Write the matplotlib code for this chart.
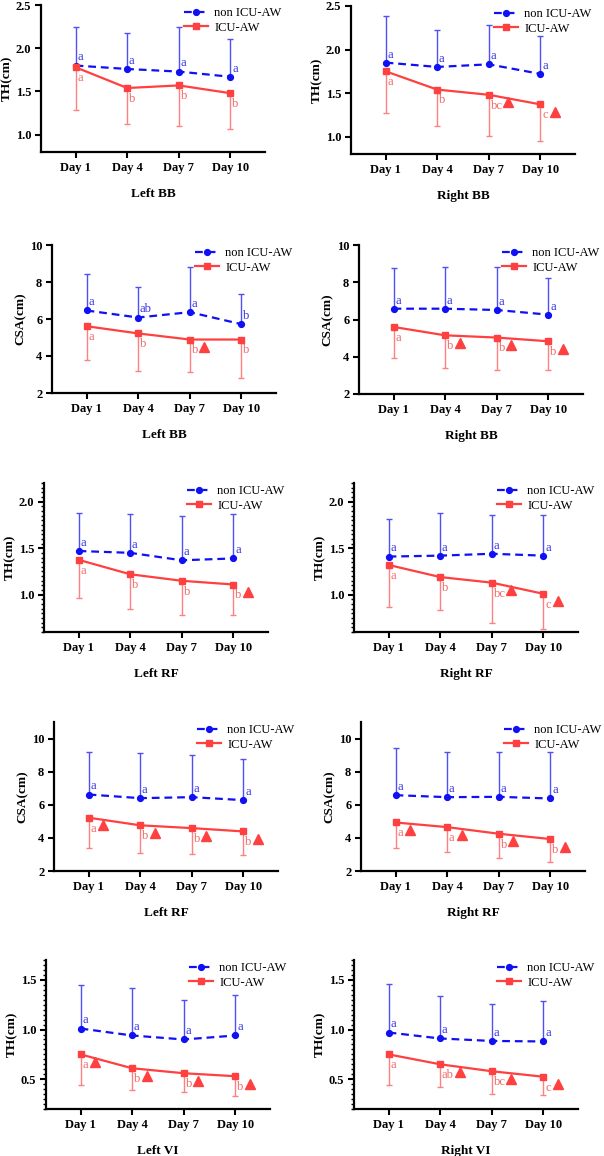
import matplotlib
matplotlib.use("Agg")
import matplotlib.pyplot as plt
import matplotlib.transforms as mtransforms
from matplotlib.ticker import MultipleLocator
import numpy as np

plt.rcParams['font.family'] = ['Liberation Serif', 'DejaVu Serif']

days = ["Day 1", "Day 4", "Day 7", "Day 10"]
series_names = ["non ICU-AW", "ICU-AW"]

# Panel titles / y labels
titles = ["Left BB", "Right BB", "Left BB", "Right BB", "Left RF",
          "Right RF", "Left RF", "Right RF", "Left VI", "Right VI"]
ylabels = ["TH(cm)", "TH(cm)", "CSA(cm)", "CSA(cm)", "TH(cm)",
           "TH(cm)", "CSA(cm)", "CSA(cm)", "TH(cm)", "TH(cm)"]

# Means and SDs (non ICU-AW)
non_mean = [
    [1.80, 1.76, 1.73, 1.67],
    [1.85, 1.80, 1.83, 1.72],
    [6.46, 6.08, 6.37, 5.72],
    [6.58, 6.58, 6.51, 6.26],
    [1.47, 1.45, 1.37, 1.39],
    [1.41, 1.42, 1.44, 1.42],
    [6.62, 6.40, 6.46, 6.28],
    [6.58, 6.46, 6.48, 6.38],
    [1.01, 0.94, 0.90, 0.94],
    [0.97, 0.91, 0.885, 0.88],
]
non_sd = [
    [0.45, 0.42, 0.51, 0.44],
    [0.54, 0.43, 0.45, 0.44],
    [1.98, 1.65, 2.44, 1.65],
    [2.19, 2.26, 2.31, 1.99],
    [0.41, 0.42, 0.48, 0.48],
    [0.40, 0.46, 0.415, 0.435],
    [2.54, 2.72, 2.54, 2.51],
    [2.82, 2.74, 2.72, 2.78],
    [0.44, 0.475, 0.40, 0.41],
    [0.485, 0.425, 0.375, 0.41],
]
# Means and SDs (ICU-AW)
icu_mean = [
    [1.78, 1.54, 1.57, 1.48],
    [1.75, 1.54, 1.48, 1.37],
    [5.61, 5.22, 4.89, 4.89],
    [5.60, 5.15, 5.03, 4.83],
    [1.375, 1.22, 1.15, 1.11],
    [1.32, 1.19, 1.13, 1.01],
    [5.22, 4.76, 4.59, 4.39],
    [4.93, 4.65, 4.25, 3.93],
    [0.75, 0.61, 0.56, 0.53],
    [0.75, 0.65, 0.58, 0.525],
]
icu_sd = [
    [0.49, 0.42, 0.47, 0.41],
    [0.48, 0.42, 0.47, 0.42],
    [1.81, 2.02, 1.77, 2.06],
    [1.68, 1.77, 1.74, 1.56],
    [0.415, 0.375, 0.37, 0.33],
    [0.45, 0.35, 0.43, 0.38],
    [1.81, 1.65, 1.59, 1.43],
    [1.54, 1.52, 1.49, 1.37],
    [0.31, 0.22, 0.19, 0.20],
    [0.31, 0.23, 0.23, 0.185],
]
# significance letters
non_letters = [
    ["a", "a", "a", "a"], ["a", "a", "a", "a"], ["a", "ab", "a", "b"],
    ["a", "a", "a", "a"], ["a", "a", "a", "a"], ["a", "a", "a", "a"],
    ["a", "a", "a", "a"], ["a", "a", "a", "a"], ["a", "a", "a", "a"],
    ["a", "a", "a", "a"],
]
icu_letters = [
    ["a", "b", "b", "b"], ["a", "b", "bc", "c"], ["a", "b", "b", "b"],
    ["a", "b", "b", "b"], ["a", "b", "b", "b"], ["a", "b", "bc", "c"],
    ["a", "b", "b", "b"], ["a", "a", "b", "b"], ["a", "b", "b", "b"],
    ["a", "ab", "bc", "c"],
]
# triangle marks (1 = present)
triangles = [
    [0, 0, 0, 0], [0, 0, 1, 1], [0, 0, 1, 0], [0, 1, 1, 1], [0, 0, 0, 1],
    [0, 0, 1, 1], [1, 1, 1, 1], [1, 1, 1, 1], [1, 1, 1, 1], [0, 1, 1, 1],
]
# axis settings
ylims = [(0.8, 2.5), (0.8, 2.5), (2, 10), (2, 10), (0.6, 2.2),
         (0.6, 2.2), (2, 11), (2, 11), (0.2, 1.7), (0.2, 1.7)]
yticks = [[1.0, 1.5, 2.0, 2.5], [1.0, 1.5, 2.0, 2.5], [2, 4, 6, 8, 10], [2, 4, 6, 8, 10],
          [1.0, 1.5, 2.0], [1.0, 1.5, 2.0], [2, 4, 6, 8, 10], [2, 4, 6, 8, 10],
          [0.5, 1.0, 1.5], [0.5, 1.0, 1.5]]
minor = [None, None, None, None, 0.05, 0.05, None, None, 0.05, 0.05]
fmt_dec = [True, True, False, False, True, True, False, False, True, True]

# axes placement in pixels (left, top, bottom)
W, H = 604, 1156
boxes = [(41, 5, 152), (351, 6, 154), (52, 245, 393), (359, 245, 394),
         (44, 483, 632), (354, 483, 632), (54, 722, 871), (361, 722, 871),
         (46, 960, 1109), (354, 960, 1109)]
axw = 224

BLUE = "#1010f5"
BLUE_ERR = "#4f4ff5"
BLUE_TXT = "#3535e0"
RED = "#ff4040"
RED_ERR = "#ff8080"
RED_TXT = "#f06a6a"

fig = plt.figure(figsize=(W / 100, H / 100), dpi=100)
x = np.arange(len(days))

for i in range(10):
    l, t, b = boxes[i]
    ax = fig.add_axes([l / W, 1 - b / H, axw / W, (b - t) / H])
    nm = np.array(non_mean[i]); ns = np.array(non_sd[i])
    im = np.array(icu_mean[i]); isd = np.array(icu_sd[i])
    z = np.zeros(4)
    ax.errorbar(x, nm, yerr=[z, ns], fmt='none', ecolor=BLUE_ERR, elinewidth=1.0,
                capsize=2, capthick=1.0, zorder=2)
    ax.errorbar(x, im, yerr=[isd, z], fmt='none', ecolor=RED_ERR, elinewidth=1.0,
                capsize=2, capthick=1.0, zorder=2)
    ax.plot(x, nm, color=BLUE, ls=(0, (3.5, 2.2)), lw=1.6, marker='o', ms=4.2,
            label=series_names[0], zorder=3)
    ax.plot(x, im, color=RED, ls='-', lw=1.6, marker='s', ms=4.0,
            label=series_names[1], zorder=3)

    for j in range(4):
        ax.annotate(non_letters[i][j], (x[j], nm[j]), xytext=(1.2, 1.5),
                    textcoords='offset points', color=BLUE_TXT, fontsize=9,
                    ha='left', va='bottom', zorder=4)
        ax.annotate(icu_letters[i][j], (x[j], im[j]), xytext=(1.2, -3.5),
                    textcoords='offset points', color=RED_TXT, fontsize=9,
                    ha='left', va='top', zorder=4)
        if triangles[i][j]:
            off = 10.5 if len(icu_letters[i][j]) == 1 else 14
            tr = ax.transData + mtransforms.ScaledTranslation(
                off / 72, -5.5 / 72, fig.dpi_scale_trans)
            ax.plot([x[j]], [im[j]], marker='^', ms=7.5, color=RED, ls='none',
                    transform=tr, zorder=4, clip_on=False)

    ax.set_xlim(-0.67, 3.67)
    ax.set_ylim(*ylims[i])
    ax.set_xticks(x)
    ax.set_xticklabels(days)
    ax.set_yticks(yticks[i])
    if fmt_dec[i]:
        ax.set_yticklabels([f"{v:.1f}" for v in yticks[i]])
    else:
        ax.set_yticklabels([f"{int(v)}" for v in yticks[i]])
    if minor[i]:
        ax.yaxis.set_minor_locator(MultipleLocator(minor[i]))
        ax.tick_params(axis='y', which='minor', length=2.2, width=1.0)
    for s in ['top', 'right']:
        ax.spines[s].set_visible(False)
    for s in ['left', 'bottom']:
        ax.spines[s].set_linewidth(1.6)
    ax.tick_params(axis='both', which='major', length=4, width=1.5, labelsize=9, pad=3)
    for lab in ax.get_xticklabels() + ax.get_yticklabels():
        lab.set_fontweight('bold')
    ax.set_ylabel(ylabels[i], fontsize=9.5, fontweight='bold', labelpad=2)
    ax.set_xlabel(titles[i], fontsize=9.5, fontweight='bold', labelpad=10)
    ax.legend(loc='upper left', bbox_to_anchor=(0.64, 0.985), frameon=False,
              fontsize=9, handlelength=1.9, handletextpad=0.5, labelspacing=0.2,
              borderpad=0, borderaxespad=0)

fig.savefig("out.png", dpi=100)
